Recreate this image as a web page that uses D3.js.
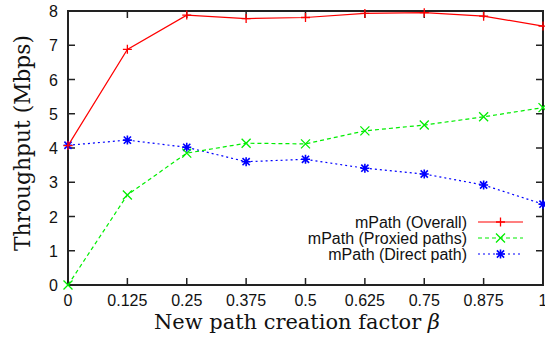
<!DOCTYPE html>
<html>
<head>
<meta charset="utf-8">
<script src="https://cdn.jsdelivr.net/npm/d3@7"></script>
<style>
  html, body { margin: 0; padding: 0; background: #fff; }
  svg { display: block; }
</style>
</head>
<body>
<svg id="chart" width="545" height="339"></svg>
<script>
// Throughput vs. new path creation factor beta
const betaValues = [0, 0.125, 0.25, 0.375, 0.5, 0.625, 0.75, 0.875, 1];
const xTickLabels = ["0", "0.125", "0.25", "0.375", "0.5", "0.625", "0.75", "0.875", "1"];
const yTicks = [0, 1, 2, 3, 4, 5, 6, 7, 8];

const overall = [4.07, 6.88, 7.88, 7.78, 7.81, 7.93, 7.95, 7.85, 7.56];
const proxied = [0.0, 2.63, 3.85, 4.14, 4.12, 4.50, 4.67, 4.91, 5.18];
const direct  = [4.08, 4.23, 4.02, 3.60, 3.67, 3.41, 3.24, 2.92, 2.36];

const seriesNames = ["mPath (Overall)", "mPath (Proxied paths)", "mPath (Direct path)"];

const series = [
  { name: seriesNames[0], values: overall, color: "#ff0000", dash: null,  marker: "plus" },
  { name: seriesNames[1], values: proxied, color: "#00ee00", dash: "4,3", marker: "cross" },
  { name: seriesNames[2], values: direct,  color: "#0000ff", dash: "2,3", marker: "star" }
];

const svg = d3.select("#chart");
const margin = { left: 68, right: 2, top: 11, bottom: 54 };
const W = 545, H = 339;

const x = d3.scaleLinear().domain([0, 1]).range([margin.left, W - margin.right]);
const y = d3.scaleLinear().domain([0, 8]).range([H - margin.bottom, margin.top]);

const axisColor = "#222";
const tickLen = 7;
const sansFont = "Liberation Sans, Arial, sans-serif";
const serifFont = "DejaVu Serif, Liberation Serif, serif";

// inward ticks on bottom/top and left/right
const gx = svg.append("g");
betaValues.forEach((v, i) => {
  const px = x(v);
  gx.append("line").attr("x1", px).attr("x2", px).attr("y1", y(0)).attr("y2", y(0) - tickLen)
    .attr("stroke", axisColor).attr("stroke-width", 1.5);
  gx.append("line").attr("x1", px).attr("x2", px).attr("y1", y(8)).attr("y2", y(8) + tickLen)
    .attr("stroke", axisColor).attr("stroke-width", 1.5);
  gx.append("text").attr("x", px).attr("y", y(0) + 21)
    .attr("text-anchor", "middle")
    .attr("font-family", sansFont).attr("font-size", 16)
    .attr("fill", "#111").text(xTickLabels[i]);
});
const gy = svg.append("g");
yTicks.forEach(v => {
  const py = y(v);
  gy.append("line").attr("x1", x(0)).attr("x2", x(0) + tickLen).attr("y1", py).attr("y2", py)
    .attr("stroke", axisColor).attr("stroke-width", 1.5);
  gy.append("line").attr("x1", x(1)).attr("x2", x(1) - tickLen).attr("y1", py).attr("y2", py)
    .attr("stroke", axisColor).attr("stroke-width", 1.5);
  gy.append("text").attr("x", x(0) - 10).attr("y", py + 6)
    .attr("text-anchor", "end")
    .attr("font-family", sansFont).attr("font-size", 16)
    .attr("fill", "#111").text(v);
});

// frame
svg.append("rect")
  .attr("x", x(0)).attr("y", y(8))
  .attr("width", x(1) - x(0)).attr("height", y(0) - y(8))
  .attr("fill", "none").attr("stroke", axisColor).attr("stroke-width", 2);

// marker drawing
function drawMarker(g, cx, cy, type, color) {
  const s = 4.5;
  const p = d3.path();
  if (type === "plus" || type === "star") {
    p.moveTo(cx - s, cy); p.lineTo(cx + s, cy);
    p.moveTo(cx, cy - s); p.lineTo(cx, cy + s);
  }
  if (type === "cross" || type === "star") {
    const d = type === "star" ? s * 0.8 : s;
    p.moveTo(cx - d, cy - d); p.lineTo(cx + d, cy + d);
    p.moveTo(cx - d, cy + d); p.lineTo(cx + d, cy - d);
  }
  g.append("path").attr("d", p.toString()).attr("stroke", color)
    .attr("stroke-width", type === "star" ? 1.6 : 1.3).attr("fill", "none");
}

const line = d3.line().x((d, i) => x(betaValues[i])).y(d => y(d));

// draw in reverse so the overall line sits on top
series.slice().reverse().forEach(s => {
  const g = svg.append("g");
  g.append("path").datum(s.values).attr("d", line)
    .attr("fill", "none").attr("stroke", s.color).attr("stroke-width", 1.2)
    .attr("stroke-dasharray", s.dash);
  s.values.forEach((v, i) => drawMarker(g, x(betaValues[i]), y(v), s.marker, s.color));
});

// legend
const legendTextX = 467, legendLineX1 = 478, legendLineX2 = 523;
const legendY = [222, 238, 254];
series.forEach((s, i) => {
  const ly = legendY[i];
  svg.append("text").attr("x", legendTextX).attr("y", ly + 5.5)
    .attr("text-anchor", "end")
    .attr("font-family", sansFont).attr("font-size", 16)
    .attr("fill", "#111").text(s.name);
  svg.append("line").attr("x1", legendLineX1).attr("x2", legendLineX2).attr("y1", ly).attr("y2", ly)
    .attr("stroke", s.color).attr("stroke-width", 1.2).attr("stroke-dasharray", s.dash);
  drawMarker(svg, (legendLineX1 + legendLineX2) / 2, ly, s.marker, s.color);
});

// size a title so it spans the wanted width
function fitFont(sel, width) {
  const base = 20;
  sel.attr("font-size", base);
  const len = sel.node().getComputedTextLength();
  if (len > 0) sel.attr("font-size", base * width / len);
}

// axis titles
const xTitle = svg.append("text")
  .attr("x", 297).attr("y", 329)
  .attr("text-anchor", "middle")
  .attr("font-family", serifFont)
  .attr("fill", "#111");
xTitle.append("tspan").text("New path creation factor ");
xTitle.append("tspan").attr("font-style", "italic").text("β");
fitFont(xTitle, 286);

const yTitle = svg.append("text")
  .attr("transform", "translate(30, 143) rotate(-90)")
  .attr("text-anchor", "middle")
  .attr("font-family", serifFont)
  .attr("fill", "#111")
  .text("Throughput (Mbps)");
fitFont(yTitle, 216);
</script>
</body>
</html>
